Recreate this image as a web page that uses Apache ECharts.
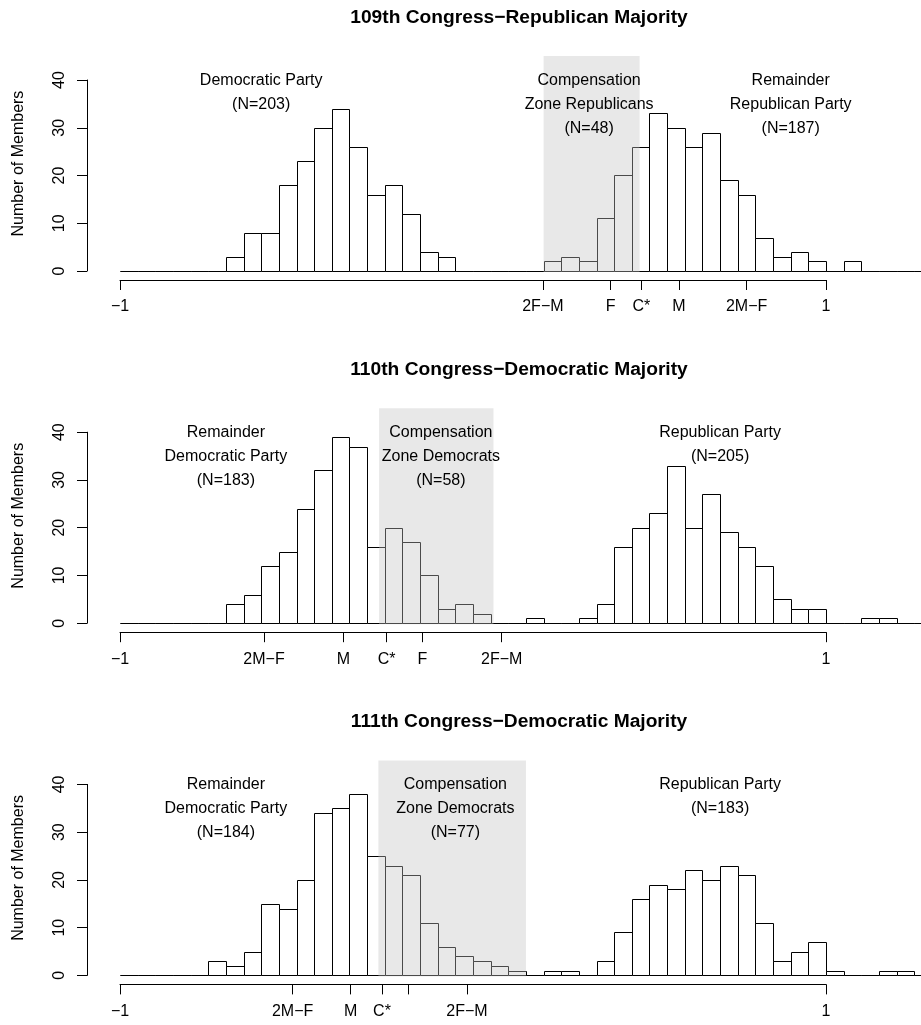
<!DOCTYPE html>
<html>
<head>
<meta charset="utf-8">
<script src="https://cdn.jsdelivr.net/npm/echarts@6/dist/echarts.min.js"></script>
<style>html,body{margin:0;padding:0;background:#fff}#c{width:921px;height:1025px}</style>
</head>
<body>
<div id="c"></div>
<script>
// ---- data ----
const binStart = -1, binWidth = 0.05;
const titles = ["109th Congress\u2212Republican Majority", "110th Congress\u2212Democratic Majority", "111th Congress\u2212Democratic Majority"];
const counts109 = [0,0,0,0,0,0,3,8,8,18,23,30,34,26,16,18,12,4,3,0,0,0,0,0,2,3,2,11,20,26,33,30,26,29,19,16,7,3,4,2,0,2,0,0,0,0];
const counts110 = [0,0,0,0,0,0,4,6,12,15,24,32,39,37,16,20,17,10,3,4,2,0,0,1,0,0,1,4,16,20,23,33,20,27,19,16,12,5,3,3,0,0,1,1,0,0];
const counts111 = [0,0,0,0,0,3,2,5,15,14,20,34,35,38,25,23,21,11,6,4,3,2,1,0,1,1,0,3,9,16,19,18,22,20,23,21,11,3,5,7,1,0,0,1,1,0];
const zone109 = [0.2, 0.472];
const zone110 = [-0.266, 0.058];
const zone111 = [-0.268, 0.150];
const tickVals109 = [-1, 0.198, 0.390, 0.477, 0.583, 0.775, 1];
const tickLabs109 = ["\u22121", "2F\u2212M", "F", "C*", "M", "2M\u2212F", "1"];
const tickVals110 = [-1, -0.592, -0.367, -0.2445, -0.1436, 0.0813, 1];
const tickLabs110 = ["\u22121", "2M\u2212F", "M", "C*", "F", "2F\u2212M", "1"];
const tickVals111 = [-1, -0.511, -0.3465, -0.2578, -0.1832, -0.017, 1];
const tickLabs111 = ["\u22121", "2M\u2212F", "M", "C*", "", "2F\u2212M", "1"];
const notes109 = [[-0.6, 37.4, "Democratic Party\n(N=203)"], [0.329, 34.87, "Compensation\nZone Republicans\n(N=48)"], [0.9, 34.87, "Remainder\nRepublican Party\n(N=187)"]];
const notes110 = [[-0.7, 34.87, "Remainder\nDemocratic Party\n(N=183)"], [-0.091, 34.87, "Compensation\nZone Democrats\n(N=58)"], [0.7, 37.4, "Republican Party\n(N=205)"]];
const notes111 = [[-0.7, 34.87, "Remainder\nDemocratic Party\n(N=184)"], [-0.05, 34.87, "Compensation\nZone Democrats\n(N=77)"], [0.7, 37.4, "Republican Party\n(N=183)"]];
const yTicksMax = 40, yInterval = 10, yPlotMax = 45;

// ---- chart ----
const FONT = "'Liberation Sans', Arial, Helvetica, sans-serif";
const panels = [
  {title: titles[0], counts: counts109, zone: zone109, tv: tickVals109, tl: tickLabs109, notes: notes109},
  {title: titles[1], counts: counts110, zone: zone110, tv: tickVals110, tl: tickLabs110, notes: notes110},
  {title: titles[2], counts: counts111, zone: zone111, tv: tickVals111, tl: tickLabs111, notes: notes111}
];
const PANEL_H = 352.2;
const grid = [], xAxis = [], yAxis = [], series = [], title = [];

function histItem(params, api) {
  const x0 = api.value(0), x1 = api.value(1), c = api.value(2);
  const p0 = api.coord([x0, c]), p1 = api.coord([x1, 0]);
  const l = Math.round(p0[0]) + 0.5, r = Math.round(p1[0]) + 0.5;
  const t = Math.round(p0[1]) + 0.5, b = Math.round(p1[1]) + 0.5;
  return {type: 'rect', shape: {x: l, y: t, width: r - l, height: b - t},
          style: {fill: '#fff', stroke: '#000', lineWidth: 1}};
}
function zoneItem(params, api) {
  const p0 = api.coord([api.value(0), yPlotMax]), p1 = api.coord([api.value(1), 0]);
  return {type: 'rect', shape: {x: p0[0], y: p0[1], width: p1[0] - p0[0], height: p1[1] - p0[1] + 1},
          style: {fill: 'rgba(195,195,195,0.38)'}};
}

panels.forEach((P, p) => {
  const o = PANEL_H * p;
  const g = 3 * p;
  grid.push({left: 120, right: 0, top: 56.1 + o, height: 214.9, outerBoundsMode: 'none', containLabel: false});
  grid.push({left: 87, width: 10, top: 80 + o, height: 191, outerBoundsMode: 'none', containLabel: false});
  grid.push({left: 120, width: 706, top: 279 + o, height: 1, outerBoundsMode: 'none', containLabel: false});

  xAxis.push({gridIndex: g, type: 'value', min: binStart, max: binStart + 801 / 353, show: false});
  xAxis.push({gridIndex: g + 1, type: 'value', show: false});
  const labVals = P.tv.filter((v, i) => P.tl[i] !== "");
  xAxis.push({gridIndex: g + 2, type: 'value', min: -1, max: 1, position: 'bottom',
    axisLine: {show: true, lineStyle: {color: '#000', width: 1}},
    axisTick: {show: true, length: 10, customValues: P.tv, lineStyle: {color: '#000', width: 1}},
    axisLabel: {show: true, customValues: labVals, margin: 19, color: '#000', fontSize: 16, fontFamily: FONT,
      formatter: v => { let best = 0, bd = 1e9; P.tv.forEach((t, i) => { const d = Math.abs(t - v); if (d < bd) { bd = d; best = i; } }); return P.tl[best]; }},
    splitLine: {show: false}});

  yAxis.push({gridIndex: g, type: 'value', min: 0, max: yPlotMax, show: true,
    axisLine: {show: false}, axisTick: {show: false}, axisLabel: {show: false}, splitLine: {show: false},
    name: 'Number of Members', nameLocation: 'middle', nameGap: 101, nameMoveOverlap: false,
    nameTextStyle: {fontSize: 16, fontFamily: FONT, color: '#000', align: 'center', verticalAlign: 'middle'}});
  yAxis.push({gridIndex: g + 1, type: 'value', min: 0, max: yTicksMax, interval: yInterval, position: 'left',
    axisLine: {show: true, lineStyle: {color: '#000', width: 1}},
    axisTick: {show: true, length: 10, lineStyle: {color: '#000', width: 1}},
    axisLabel: {show: true, rotate: 90, margin: 27, align: 'center', verticalAlign: 'middle', color: '#000', fontSize: 16, fontFamily: FONT},
    splitLine: {show: false}});
  yAxis.push({gridIndex: g + 2, type: 'value', show: false});

  const bins = P.counts.map((c, i) => [binStart + i * binWidth, binStart + (i + 1) * binWidth, c]);
  series.push({type: 'custom', xAxisIndex: g, yAxisIndex: g, renderItem: histItem, data: bins, z: 2, silent: true, clip: false});
  series.push({type: 'custom', xAxisIndex: g, yAxisIndex: g, renderItem: zoneItem, data: [P.zone], z: 3, silent: true, clip: false});
  series.push({type: 'scatter', xAxisIndex: g, yAxisIndex: g, data: P.notes, symbolSize: 0, z: 4, silent: true,
    itemStyle: {color: '#000'},
    label: {show: true, position: 'inside', formatter: q => q.data[2], fontSize: 16, lineHeight: 24.2,
      color: '#000', textBorderWidth: 0, opacity: 1, fontFamily: FONT, align: 'center', verticalAlign: 'middle'}});

  title.push({text: P.title, left: 519, top: 8 + o, textAlign: 'center', padding: 0,
    textStyle: {fontSize: 19.2, fontWeight: 'bold', fontFamily: FONT, color: '#000'}});
});

const chart = echarts.init(document.getElementById('c'), null, {renderer: 'canvas'});
chart.setOption({animation: false, backgroundColor: '#fff', title, grid, xAxis, yAxis, series});
</script>
</body>
</html>
